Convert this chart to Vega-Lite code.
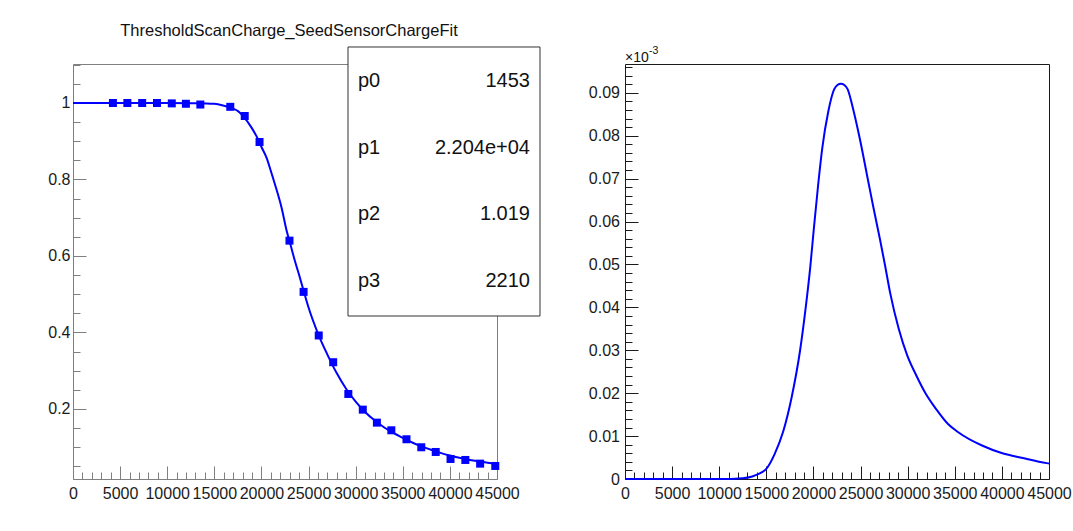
{
  "$schema": "https://vega.github.io/schema/vega-lite/v6.json",
  "background": "white",
  "padding": {"left": 47, "top": 22, "right": 0, "bottom": 0},
  "autosize": {"type": "pad"},
  "spacing": 128,
  "bounds": "flush",
  "config": {
    "font": "Liberation Sans",
    "axis": {"labelFont": "Liberation Sans", "labelFontSize": 16, "labelColor": "#1a1a1a", "domain": false, "grid": false, "labelFlush": false, "labelOverlap": false, "labelBound": false, "tickWidth": 1}
  },
  "datasets": {
    "fit": [
      {"x": 0, "y": 1.0}, {"x": 5000, "y": 1.0}, {"x": 10000, "y": 1.0}, {"x": 13000, "y": 0.9995},
      {"x": 15000, "y": 0.998}, {"x": 16000, "y": 0.993}, {"x": 17000, "y": 0.985}, {"x": 17544, "y": 0.978},
      {"x": 18000, "y": 0.967}, {"x": 18966, "y": 0.935}, {"x": 19500, "y": 0.912}, {"x": 20000, "y": 0.885},
      {"x": 20558, "y": 0.856}, {"x": 21000, "y": 0.822}, {"x": 21439, "y": 0.787}, {"x": 22150, "y": 0.725},
      {"x": 22681, "y": 0.665}, {"x": 23000, "y": 0.637}, {"x": 23562, "y": 0.586}, {"x": 24000, "y": 0.55},
      {"x": 24500, "y": 0.507}, {"x": 25000, "y": 0.465}, {"x": 26000, "y": 0.397}, {"x": 27000, "y": 0.342},
      {"x": 28000, "y": 0.293}, {"x": 29000, "y": 0.252}, {"x": 30000, "y": 0.219}, {"x": 31000, "y": 0.192},
      {"x": 32000, "y": 0.17}, {"x": 33000, "y": 0.152}, {"x": 34000, "y": 0.137}, {"x": 35000, "y": 0.124},
      {"x": 36000, "y": 0.112}, {"x": 37000, "y": 0.102}, {"x": 38000, "y": 0.093}, {"x": 39000, "y": 0.085},
      {"x": 40000, "y": 0.078}, {"x": 41000, "y": 0.072}, {"x": 42000, "y": 0.067}, {"x": 43000, "y": 0.063},
      {"x": 44000, "y": 0.059}, {"x": 45000, "y": 0.056}
    ],
    "points": [
      {"x": 4237, "y": 1.0}, {"x": 5771, "y": 1.0}, {"x": 7342, "y": 1.0}, {"x": 8912, "y": 1.0},
      {"x": 10483, "y": 0.999}, {"x": 11981, "y": 0.998}, {"x": 13515, "y": 0.996}, {"x": 16692, "y": 0.99},
      {"x": 18226, "y": 0.966}, {"x": 19797, "y": 0.898}, {"x": 22975, "y": 0.64}, {"x": 24472, "y": 0.506},
      {"x": 26080, "y": 0.392}, {"x": 27614, "y": 0.322}, {"x": 29221, "y": 0.239}, {"x": 30755, "y": 0.198},
      {"x": 32252, "y": 0.164}, {"x": 33786, "y": 0.144}, {"x": 35394, "y": 0.1205}, {"x": 36964, "y": 0.0996},
      {"x": 38498, "y": 0.0873}, {"x": 40069, "y": 0.069}, {"x": 41640, "y": 0.0664}, {"x": 43210, "y": 0.0568},
      {"x": 44817, "y": 0.0507}
    ],
    "stats": [
      {"par": "p0", "val": "1453"}, {"par": "p1", "val": "2.204e+04"},
      {"par": "p2", "val": "1.019"}, {"par": "p3", "val": "2210"}
    ],
    "deriv": [
      {"x": 0, "y": 0}, {"x": 5000, "y": 0}, {"x": 10000, "y": 0}, {"x": 12500, "y": 0.0002},
      {"x": 13500, "y": 0.0006}, {"x": 14300, "y": 0.0013}, {"x": 14976, "y": 0.0023}, {"x": 15879, "y": 0.0058},
      {"x": 16780, "y": 0.011}, {"x": 17682, "y": 0.019}, {"x": 18584, "y": 0.03}, {"x": 19126, "y": 0.039},
      {"x": 19667, "y": 0.0495}, {"x": 20028, "y": 0.058}, {"x": 20497, "y": 0.0685}, {"x": 20930, "y": 0.077},
      {"x": 21580, "y": 0.0857}, {"x": 22193, "y": 0.0908}, {"x": 22550, "y": 0.0918}, {"x": 22915, "y": 0.0921},
      {"x": 23280, "y": 0.0918}, {"x": 23637, "y": 0.0908}, {"x": 24178, "y": 0.0865}, {"x": 24900, "y": 0.0795},
      {"x": 25802, "y": 0.0695}, {"x": 26343, "y": 0.0635}, {"x": 27065, "y": 0.0558}, {"x": 27606, "y": 0.0497},
      {"x": 28147, "y": 0.0433}, {"x": 29050, "y": 0.035}, {"x": 29952, "y": 0.0288}, {"x": 30854, "y": 0.0244},
      {"x": 31937, "y": 0.0198}, {"x": 33019, "y": 0.0163}, {"x": 34282, "y": 0.0128}, {"x": 35365, "y": 0.0109},
      {"x": 37891, "y": 0.0078}, {"x": 40056, "y": 0.006}, {"x": 42221, "y": 0.0049}, {"x": 44747, "y": 0.0037},
      {"x": 45000, "y": 0.0036}
    ]
  },
  "hconcat": [
    {
      "width": 424,
      "height": 415,
      "view": {"stroke": "#7f7f7f", "strokeWidth": 1},
      "layer": [
        {
          "layer": [
            {
              "data": {"name": "fit"},
              "mark": {"type": "line", "color": "#0000ff", "strokeWidth": 2, "interpolate": "monotone"},
              "encoding": {
                "x": {"field": "x", "type": "quantitative", "scale": {"domain": [0, 45000], "nice": false, "zero": false},
                  "axis": {"orient": "bottom", "title": null, "values": [0, 5000, 10000, 15000, 20000, 25000, 30000, 35000, 40000, 45000], "format": "d", "tickSize": -13, "labelPadding": 19.5, "tickColor": "#7f7f7f"}},
                "y": {"field": "y", "type": "quantitative", "scale": {"domain": [0.0166, 1.102], "nice": false, "zero": false},
                  "axis": {"orient": "left", "title": null, "values": [0.2, 0.4, 0.6, 0.8, 1], "format": "~g", "tickSize": -13, "labelPadding": 16, "tickColor": "#7f7f7f"}}
              }
            },
            {
              "data": {"name": "points"},
              "mark": {"type": "square", "color": "#0000ff", "filled": true, "opacity": 1, "size": 64},
              "encoding": {
                "x": {"field": "x", "type": "quantitative", "scale": {"domain": [0, 45000], "nice": false, "zero": false},
                  "axis": {"orient": "bottom", "title": null, "labels": false, "tickSize": -7, "tickColor": "#7f7f7f",
                    "values": [1000, 2000, 3000, 4000, 6000, 7000, 8000, 9000, 11000, 12000, 13000, 14000, 16000, 17000, 18000, 19000, 21000, 22000, 23000, 24000, 26000, 27000, 28000, 29000, 31000, 32000, 33000, 34000, 36000, 37000, 38000, 39000, 41000, 42000, 43000, 44000]}},
                "y": {"field": "y", "type": "quantitative", "scale": {"domain": [0.0166, 1.102], "nice": false, "zero": false},
                  "axis": {"orient": "left", "title": null, "labels": false, "tickSize": -7, "tickColor": "#7f7f7f",
                    "values": [0.05, 0.1, 0.15, 0.25, 0.3, 0.35, 0.45, 0.5, 0.55, 0.65, 0.7, 0.75, 0.85, 0.9, 0.95, 1.05, 1.1]}}
              }
            },
            {
              "data": {"values": [{}]},
              "mark": {"type": "rect", "fill": "white", "stroke": "#333333", "strokeWidth": 1},
              "encoding": {
                "x": {"datum": 29186, "type": "quantitative", "scale": {"domain": [0, 45000], "nice": false, "zero": false}, "axis": null},
                "x2": {"datum": 49563},
                "y": {"datum": 1.1465, "type": "quantitative", "scale": {"domain": [0.0166, 1.102], "nice": false, "zero": false}, "axis": null},
                "y2": {"datum": 0.4429}
              }
            },
            {
              "data": {"values": [{}]},
              "mark": {"type": "text", "text": "ThresholdScanCharge_SeedSensorChargeFit", "font": "Liberation Sans", "fontSize": 16.5, "color": "#111111", "align": "center", "baseline": "middle"},
              "encoding": {
                "x": {"datum": 22924, "type": "quantitative", "scale": {"domain": [0, 45000], "nice": false, "zero": false}, "axis": null},
                "y": {"datum": 1.1883, "type": "quantitative", "scale": {"domain": [0.0166, 1.102], "nice": false, "zero": false}, "axis": null}
              }
            }
          ],
          "resolve": {"axis": {"x": "independent", "y": "independent"}}
        },
        {
          "data": {"name": "stats"},
          "mark": {"type": "text", "font": "Liberation Sans", "fontSize": 20, "color": "#111111", "align": "left", "baseline": "middle"},
          "encoding": {
            "x": {"datum": 30247, "type": "quantitative", "scale": {"domain": [0, 45000], "nice": false, "zero": false}, "axis": null},
            "y": {"field": "par", "type": "ordinal", "scale": {"type": "point", "domain": ["p0", "p1", "p2", "p3"], "range": [17, 217], "padding": 0}, "axis": null},
            "text": {"field": "par"}
          }
        },
        {
          "data": {"name": "stats"},
          "mark": {"type": "text", "font": "Liberation Sans", "fontSize": 20, "color": "#111111", "align": "right", "baseline": "middle"},
          "encoding": {
            "x": {"datum": 48501, "type": "quantitative", "scale": {"domain": [0, 45000], "nice": false, "zero": false}, "axis": null},
            "y": {"field": "par", "type": "ordinal", "scale": {"type": "point", "domain": ["p0", "p1", "p2", "p3"], "range": [17, 217], "padding": 0}, "axis": null},
            "text": {"field": "val"}
          }
        }
      ],
      "resolve": {"scale": {"y": "independent"}}
    },
    {
      "width": 424,
      "height": 415,
      "view": {"stroke": "#1a1a1a", "strokeWidth": 1},
      "layer": [
        {
          "data": {"name": "deriv"},
          "mark": {"type": "line", "color": "#0000ff", "strokeWidth": 2, "interpolate": "monotone"},
          "encoding": {
            "x": {"field": "x", "type": "quantitative", "scale": {"domain": [0, 45000], "nice": false, "zero": false},
              "axis": {"orient": "bottom", "title": null, "values": [0, 5000, 10000, 15000, 20000, 25000, 30000, 35000, 40000, 45000], "format": "d", "tickSize": -13, "labelPadding": 19.5, "tickColor": "#1a1a1a"}},
            "y": {"field": "y", "type": "quantitative", "scale": {"domain": [0, 0.0967], "nice": false, "zero": false},
              "axis": {"orient": "left", "title": null, "values": [0, 0.01, 0.02, 0.03, 0.04, 0.05, 0.06, 0.07, 0.08, 0.09], "format": "~g", "tickSize": -13, "labelPadding": 18.5, "tickColor": "#1a1a1a"}}
          }
        },
        {
          "data": {"values": [{}]},
          "mark": {"type": "text", "text": "×10", "font": "Liberation Sans", "fontSize": 14, "color": "#111111", "align": "left", "baseline": "middle"},
          "encoding": {
            "x": {"datum": 0, "type": "quantitative", "scale": {"domain": [0, 45000], "nice": false, "zero": false},
              "axis": {"orient": "bottom", "title": null, "labels": false, "tickSize": -7, "tickColor": "#1a1a1a",
                "values": [1000, 2000, 3000, 4000, 6000, 7000, 8000, 9000, 11000, 12000, 13000, 14000, 16000, 17000, 18000, 19000, 21000, 22000, 23000, 24000, 26000, 27000, 28000, 29000, 31000, 32000, 33000, 34000, 36000, 37000, 38000, 39000, 41000, 42000, 43000, 44000]}},
            "y": {"datum": 0.0981, "type": "quantitative", "scale": {"domain": [0, 0.0967], "nice": false, "zero": false},
              "axis": {"orient": "left", "title": null, "labels": false, "tickSize": -7, "tickColor": "#1a1a1a",
                "values": [0.002, 0.004, 0.006, 0.008, 0.012, 0.014, 0.016, 0.018, 0.022, 0.024, 0.026, 0.028, 0.032, 0.034, 0.036, 0.038, 0.042, 0.044, 0.046, 0.048, 0.052, 0.054, 0.056, 0.058, 0.062, 0.064, 0.066, 0.068, 0.072, 0.074, 0.076, 0.078, 0.082, 0.084, 0.086, 0.088, 0.092, 0.094, 0.096]}}
          }
        },
        {
          "data": {"values": [{}]},
          "mark": {"type": "text", "text": "-3", "font": "Liberation Sans", "fontSize": 10.5, "color": "#111111", "align": "left", "baseline": "middle"},
          "encoding": {
            "x": {"datum": 2547, "type": "quantitative", "scale": {"domain": [0, 45000], "nice": false, "zero": false}, "axis": null},
            "y": {"datum": 0.0997, "type": "quantitative", "scale": {"domain": [0, 0.0967], "nice": false, "zero": false}, "axis": null}
          }
        }
      ],
      "resolve": {"axis": {"x": "independent", "y": "independent"}}
    }
  ]
}
